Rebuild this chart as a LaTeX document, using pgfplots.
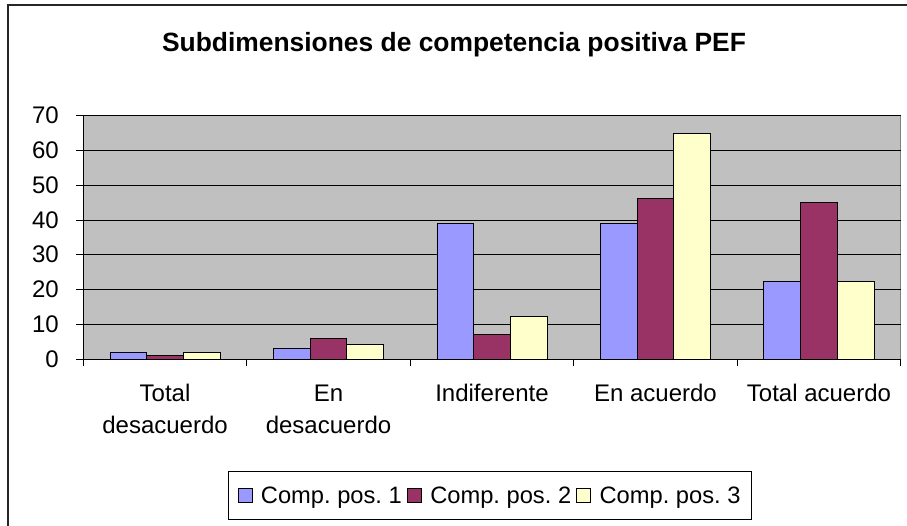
\documentclass[border=0pt]{standalone}
\usepackage{pgfplots}
\pgfplotsset{compat=1.18}
\usepackage{fontspec}
\setmainfont{Liberation Sans}
\definecolor{c1}{HTML}{9999FF}
\definecolor{c2}{HTML}{993366}
\definecolor{c3}{HTML}{FFFFCC}
\definecolor{plotbg}{HTML}{C0C0C0}
\begin{document}
\frenchspacing
\begin{tikzpicture}[x=1pt,y=1pt]
\useasboundingbox (0,0) rectangle (907,525);
\draw[line width=1.2pt, black!85] (8,-20) -- (8,520) -- (930,520);
\node[font=\bfseries\fontsize{26.4}{30}\selectfont] at (454,480) {Subdimensiones de competencia positiva PEF};
\begin{axis}[
  at={(83.3pt,166pt)}, anchor=south west,
  scale only axis, width=817.4pt, height=243.3pt,
  ybar=0pt, bar width=36.7pt,
  xmin=-0.5, xmax=4.5, ymin=0, ymax=70,
  xtick={0,1,2,3,4},
  xticklabels={{Total\\desacuerdo},{En\\desacuerdo},Indiferente,En acuerdo,Total acuerdo},
  minor xtick={-0.5,0.5,1.5,2.5,3.5,4.5},
  ytick={0,10,...,70},
  tick align=outside, tick pos=left,
  major tick length=7pt, minor tick length=7pt,
  major x tick style={draw=none},
  tick style={black, line width=0.8pt},
  ymajorgrids, grid style={black, line width=0.9pt},
  axis line style={draw=none},
  axis background/.style={fill=plotbg, draw=gray, line width=1pt},
  /pgf/number format/assume math mode=true,
  ticklabel style={font=\fontsize{24}{32}\selectfont},
  xticklabel style={align=center, anchor=north, yshift=-15pt},
  yticklabel style={anchor=east, xshift=-14pt},
  legend columns=3,
  legend style={at={(0.4976,-0.5625)}, anchor=center, draw=black, line width=0.8pt,
    font=\fontsize{23.7}{28}\selectfont, inner xsep=9pt, inner ysep=13pt,
    /tikz/every even column/.append style={column sep=3pt}},
  legend image code/.code={\draw[#1, line width=0.8pt, draw=black] (0pt,-7pt) rectangle (14pt,7pt);
    \path[draw=none, fill=none] (0pt,0pt) -- (21pt,0pt);},
  every axis plot/.append style={draw=black, line width=0.9pt},
  clip=false,
]
\addplot[fill=c1] coordinates {(0,1.8) (1,3.1) (2,39.1) (3,39.1) (4,22.2)};
\addplot[fill=c2] coordinates {(0,1.15) (1,5.95) (2,7.1) (3,46.2) (4,44.9)};
\addplot[fill=c3] coordinates {(0,1.8) (1,4.2) (2,12.3) (3,64.9) (4,22.2)};
\legend{Comp. pos. 1,Comp. pos. 2,Comp. pos. 3}
\draw[black, line width=1pt] (rel axis cs:0,0) -- (rel axis cs:0,1);
\draw[black, line width=1pt] (rel axis cs:0,0) -- (rel axis cs:1,0);
\end{axis}
\end{tikzpicture}
\end{document}
